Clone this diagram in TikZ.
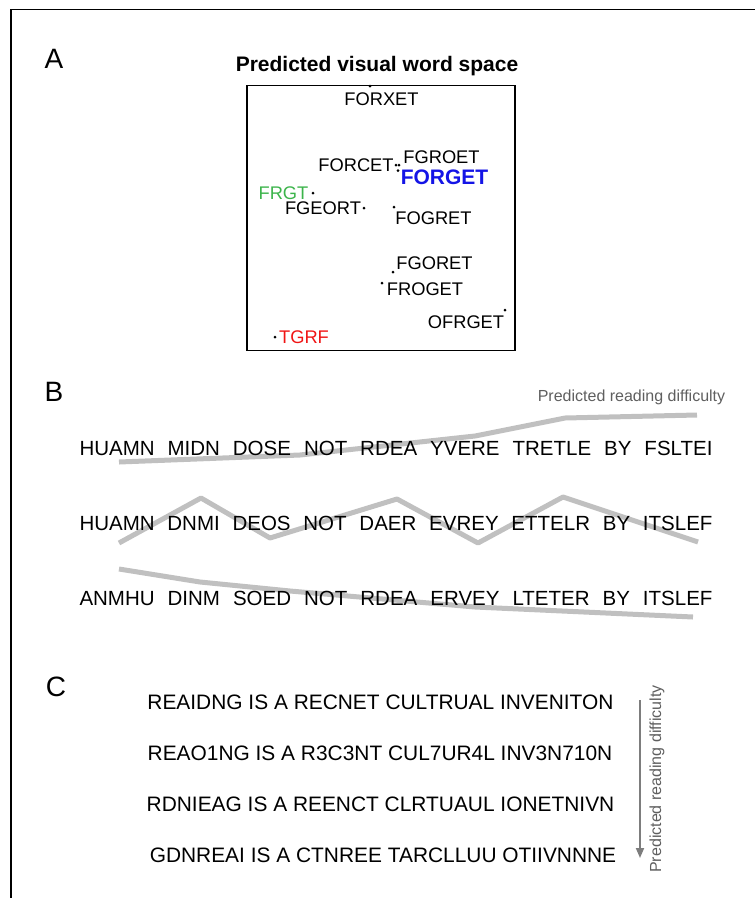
\documentclass[tikz,border=0pt]{standalone}
\usepackage{fontspec}
\setmainfont{Liberation Sans}
\usetikzlibrary{arrows.meta}
\definecolor{linegray}{RGB}{192,192,192}
\definecolor{txtgray}{RGB}{95,95,95}
\definecolor{arrgray}{RGB}{125,125,125}
\definecolor{wgreen}{RGB}{60,180,75}
\definecolor{wblue}{RGB}{20,20,230}
\definecolor{wred}{RGB}{240,20,20}
\begin{document}
\begin{tikzpicture}[x=1pt,y=-1pt,
  panel/.style={font=\fontsize{28}{32}\selectfont, inner sep=0},
  word/.style={font=\fontsize{18.3}{22}\selectfont, inner sep=0},
  dot/.style={circle, fill=black, inner sep=0, minimum size=3pt},
  rowB/.style={font=\fontsize{20.5}{24}\selectfont, inner sep=0},
  rowC/.style={font=\fontsize{20.9}{24}\selectfont, inner sep=0},
  diff/.style={line width=5pt, linegray, line join=round},
  note/.style={font=\fontsize{16}{19}\selectfont, text=txtgray, inner sep=0}]
\useasboundingbox (0,0) rectangle (755,898);
% frame
\coordinate (fTL) at (11,9.5);
\coordinate (fTR) at (755,9.5);
\coordinate (fBL) at (11,898);
\draw[line width=1.3pt] (fTR) -- (fTL) -- (fBL);
% ---------- A ----------
\node[panel] (lA) at (54,59) {A};
\node[font=\bfseries\fontsize{21}{25}\selectfont, inner sep=0] (title) at (377,66) {Predicted visual word space};
\node[draw, line width=1.8pt, minimum width=268pt, minimum height=265pt, inner sep=0] (space) at (381,218) {};
\node[dot] (dFORXET) at (370,86) {};
\node[word] (FORXET) at (381.5,99) {FORXET};
\node[dot] (dFORCET) at (396,165) {};
\node[word] (FORCET) at (356,165) {FORCET};
\node[dot] (dFGROET) at (399,165) {};
\node[word] (FGROET) at (441.5,157) {FGROET};
\node[dot] (dFORGET) at (398,170.5) {};
\node[font=\bfseries\fontsize{21}{25}\selectfont, text=wblue, inner sep=0] (FORGET) at (444.5,177) {FORGET};
\node[dot] (dFRGT) at (313,193) {};
\node[word, text=wgreen] (FRGT) at (283.5,193) {FRGT};
\node[dot] (dFGEORT) at (364,208) {};
\node[word] (FGEORT) at (323,208) {FGEORT};
\node[dot] (dFOGRET) at (394,207) {};
\node[word] (FOGRET) at (433.5,218) {FOGRET};
\node[dot] (dFGORET) at (393,272) {};
\node[word] (FGORET) at (434.5,263) {FGORET};
\node[dot] (dFROGET) at (382,283) {};
\node[word] (FROGET) at (425,289) {FROGET};
\node[dot] (dOFRGET) at (505,310) {};
\node[word] (OFRGET) at (466,322) {OFRGET};
\node[dot] (dTGRF) at (275,337) {};
\node[word, text=wred] (TGRF) at (304,337) {TGRF};
% ---------- B ----------
\node[panel] (lB) at (54,392) {B};
\node[note] (diffB) at (631.5,397) {Predicted reading difficulty};
\draw[diff] (119,462) -- (300,455) -- (475,436) -- (565,418) -- (697,415);
\draw[diff] (119,543) -- (201,498) -- (270,538) -- (397,499) -- (478,543) -- (563,497) -- (698,542);
\draw[diff] (119,569) -- (200,582) -- (290,591) -- (475,607) -- (693,617);
\node[rowB] (b1) at (396,448) {\makebox[633pt][s]{HUAMN MIDN DOSE NOT RDEA YVERE TRETLE BY FSLTEI}};
\node[rowB] (b2) at (396,523) {\makebox[633pt][s]{HUAMN DNMI DEOS NOT DAER EVREY ETTELR BY ITSLEF}};
\node[rowB] (b3) at (396,598) {\makebox[633pt][s]{ANMHU DINM SOED NOT RDEA ERVEY LTETER BY ITSLEF}};
% ---------- C ----------
\node[panel] (lC) at (56,687) {C};
\node[rowC] (c1) at (380.5,702) {REAIDNG IS A RECNET CULTRUAL INVENITON};
\node[rowC] (c2) at (380,753) {REAO1NG IS A R3C3NT CUL7UR4L INV3N710N};
\node[rowC] (c3) at (380.5,804) {RDNIEAG IS A REENCT CLRTUAUL IONETNIVN};
\node[rowC] (c4) at (383,855) {GDNREAI IS A CTNREE TARCLLUU OTIIVNNNE};
\coordinate (aTop) at (640,700);
\coordinate (aBot) at (640,858);
\draw[arrgray, line width=1.8pt, -{Triangle[width=8pt,length=10pt]}] (aTop) -- (aBot);
\node[note, rotate=90] (diffC) at (657,779) {Predicted reading difficulty};
\end{tikzpicture}
\end{document}
